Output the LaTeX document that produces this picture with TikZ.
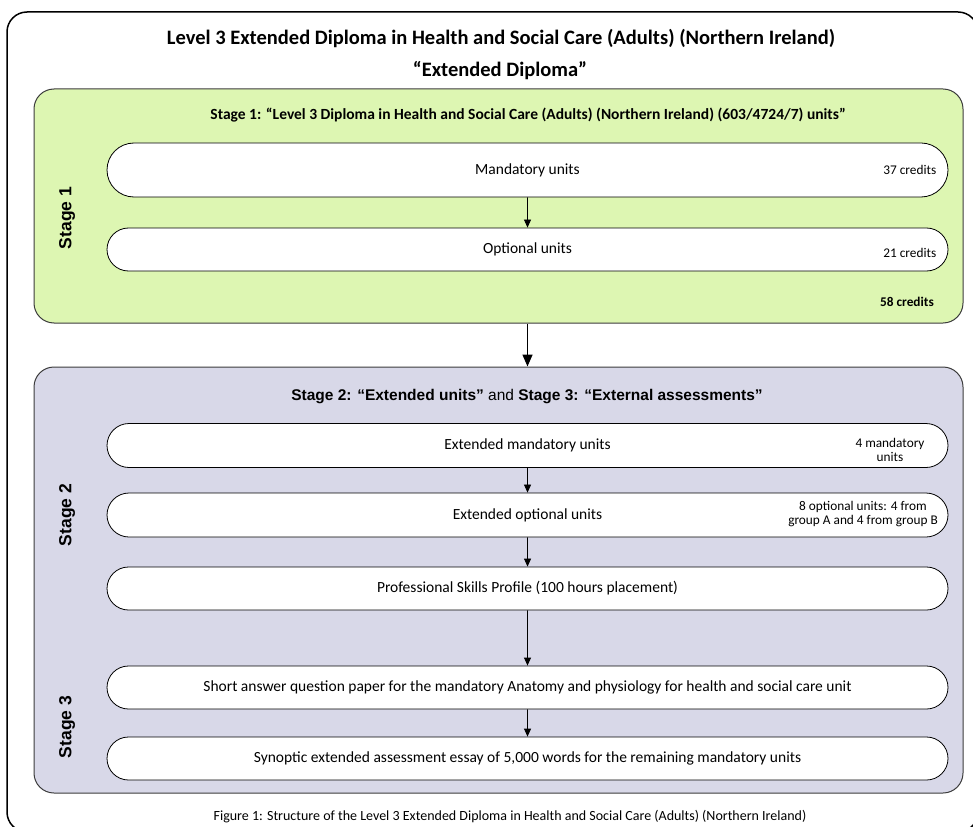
\documentclass[tikz,border=0pt]{standalone}
\usepackage{fontspec}
\setmainfont{Carlito}
\newfontfamily\arialfont{Liberation Sans}
\usetikzlibrary{arrows.meta,positioning,shapes.misc}

\definecolor{stagegreen}{RGB}{221,246,178}
\definecolor{stagelilac}{RGB}{216,216,232}
\definecolor{boxedge}{RGB}{60,60,60}

\tikzset{
  stagebox/.style={draw=boxedge, line width=1pt, rounded corners=20pt, inner sep=0pt},
  pill/.style={rounded rectangle, draw, fill=white, line width=0.8pt, minimum width=841pt, inner sep=0pt, font=\fontsize{15.5}{17}\selectfont},
  credit/.style={anchor=east, inner sep=0pt, font=\fontsize{13.3}{14}\selectfont},
  stagelabel/.style={rotate=90, font=\arialfont\bfseries\fontsize{17.5}{20}\selectfont},
  link/.style={-{Triangle[length=8pt,width=7pt]}, line width=0.8pt},
}

\begin{document}
\begin{tikzpicture}[x=1pt, y=-1pt]
\useasboundingbox (0,0) rectangle (973,826);
% Frame
\draw[line width=1.5pt, rounded corners=20pt] (7,12) rectangle (978,832);
\node[font=\bfseries\fontsize{20.5}{22}\selectfont] (title) at (501,39) {Level 3 Extended Diploma in Health and Social Care (Adults) (Northern Ireland)};
\node[font=\bfseries\fontsize{20.5}{22}\selectfont] (subtitle) at (500,71) {“Extended Diploma”};

% Stage 1
\node[stagebox, fill=stagegreen, minimum width=929pt, minimum height=234pt] (green) at (498.5,206) {};
\node[font=\bfseries\fontsize{15.5}{17}\selectfont] (stageone) at (528,115) {Stage 1: “Level 3 Diploma in Health and Social Care (Adults) (Northern Ireland) (603/4724/7) units”};
\node[stagelabel] (labelone) at (67,218) {Stage 1};
\node[pill, minimum height=54pt] (mand) at (527.5,170) {Mandatory units};
\node[pill, minimum height=43pt] (opt) at (527.5,249.5) {Optional units};
\node[credit] (mandcr) at ([xshift=-12pt]mand.east) {37 credits};
\node[credit] (optcr) at ([xshift=-12pt,yshift=-3pt]opt.east) {21 credits};
\node[credit, font=\bfseries\fontsize{13.3}{14}\selectfont] (total) at (934,302) {58 credits};
\draw[link] (mand) -- (opt);

% Stage 2 and 3
\node[stagebox, fill=stagelilac, minimum width=929pt, minimum height=426pt] (purple) at (498.5,580) {};
\draw[-{Triangle[length=12pt,width=10pt]}, line width=1.5pt] (green.south -| mand) -- (purple.north -| mand);
\node[font=\arialfont\fontsize{15.5}{17}\selectfont] (stagetwo) at (527,397) {\textbf{Stage 2: “Extended units”} and \textbf{Stage 3: “External assessments”}};
\node[stagelabel] (labeltwo) at (67,515) {Stage 2};
\node[stagelabel] (labelthree) at (67,727) {Stage 3};
\node[pill, minimum height=44pt] (extmand) at (527.5,445.5) {Extended mandatory units};
\node[pill, minimum height=44pt] (extopt) at (527.5,515) {Extended optional units};
\node[pill, minimum height=43pt] (skills) at (527.5,588.5) {Professional Skills Profile (100 hours placement)};
\node[pill, minimum height=43pt] (short) at (527.5,687.5) {Short answer question paper for the mandatory Anatomy and physiology for health and social care unit};
\node[pill, minimum height=43pt] (essay) at (527.5,758.5) {Synoptic extended assessment essay of 5,000 words for the remaining mandatory units};
\node[credit, anchor=center, align=center] (extmandnote) at (890,450) {4 mandatory\\units};
\node[credit, anchor=center, align=center] (extoptnote) at (863,514) {8 optional units: 4 from\\group A and 4 from group B};
\draw[link] (extmand) -- (extopt);
\draw[link] (extopt) -- (skills);
\draw[link] (skills) -- (short);
\draw[link] (short) -- (essay);

% Caption
\node[font=\fontsize{14}{16}\selectfont] (caption) at (510,817) {Figure 1: Structure of the Level 3 Extended Diploma in Health and Social Care (Adults) (Northern Ireland)};
\end{tikzpicture}
\end{document}
